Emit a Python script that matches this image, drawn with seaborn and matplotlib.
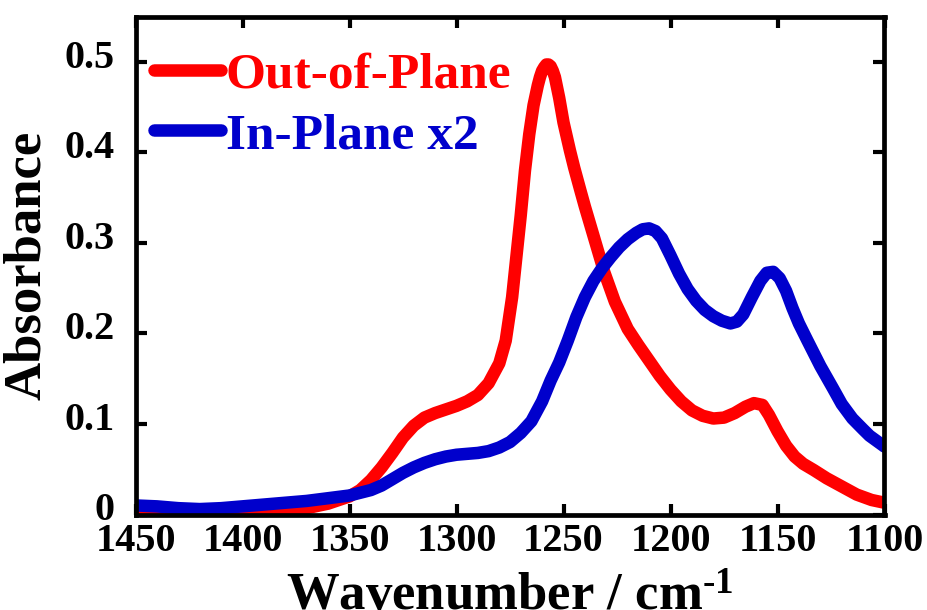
import numpy as np
import pandas as pd
import matplotlib
matplotlib.use("Agg")
import matplotlib.pyplot as plt
import matplotlib.transforms as mtransforms
import seaborn as sns

# ---- data ----
oop_wn = [1450, 1440, 1430, 1420, 1410, 1400, 1390, 1380, 1370, 1360, 1350, 1345,
          1340, 1335, 1330, 1325, 1320, 1315, 1310, 1305, 1300, 1295, 1290, 1285,
          1280, 1277, 1274, 1272, 1270, 1268, 1266, 1264, 1262, 1261, 1260, 1259,
          1258, 1257, 1256, 1255, 1254, 1252, 1250, 1247, 1245, 1242, 1240, 1237,
          1234, 1231, 1226, 1220, 1215, 1210, 1205, 1200, 1195, 1190, 1185, 1180,
          1175, 1170, 1165, 1161, 1157, 1154, 1150, 1146, 1142, 1138, 1133, 1127,
          1120, 1113, 1106, 1100]
oop_abs = [0.003, 0.002, 0.001, 0.001, 0.001, 0.002, 0.003, 0.005, 0.007, 0.012, 0.020, 0.027,
           0.038, 0.052, 0.068, 0.085, 0.098, 0.107, 0.112, 0.116, 0.120, 0.125, 0.132, 0.145,
           0.167, 0.192, 0.240, 0.285, 0.330, 0.380, 0.420, 0.452, 0.474, 0.483, 0.490, 0.494,
           0.497, 0.497, 0.495, 0.490, 0.483, 0.460, 0.433, 0.402, 0.383, 0.357, 0.340, 0.316,
           0.292, 0.268, 0.235, 0.205, 0.187, 0.170, 0.153, 0.138, 0.125, 0.115, 0.109, 0.106,
           0.107, 0.112, 0.119, 0.123, 0.121, 0.110, 0.092, 0.076, 0.064, 0.056, 0.049, 0.040,
           0.031, 0.022, 0.016, 0.013]

ip_wn = [1450, 1440, 1430, 1420, 1410, 1400, 1390, 1380, 1370, 1360, 1350, 1340,
         1335, 1330, 1325, 1320, 1315, 1310, 1305, 1300, 1295, 1290, 1285, 1280,
         1275, 1270, 1265, 1260, 1256, 1252, 1248, 1244, 1240, 1236, 1232, 1228,
         1224, 1220, 1216, 1213, 1210, 1207, 1204, 1200, 1196, 1192, 1188, 1184,
         1180, 1176, 1172, 1169, 1166, 1162, 1158, 1155, 1152, 1149, 1146, 1143,
         1140, 1136, 1130, 1124, 1120, 1115, 1110, 1107, 1100]
ip_abs = [0.010, 0.009, 0.007, 0.006, 0.007, 0.009, 0.011, 0.013, 0.015, 0.018, 0.021, 0.027,
          0.032, 0.039, 0.046, 0.052, 0.057, 0.061, 0.064, 0.066, 0.067, 0.068, 0.070, 0.074,
          0.080, 0.090, 0.103, 0.125, 0.148, 0.168, 0.192, 0.218, 0.240, 0.258, 0.272, 0.284,
          0.295, 0.304, 0.311, 0.315, 0.316, 0.313, 0.305, 0.286, 0.266, 0.249, 0.236, 0.226,
          0.219, 0.214, 0.211, 0.213, 0.221, 0.240, 0.258, 0.267, 0.268, 0.261, 0.247, 0.228,
          0.211, 0.192, 0.164, 0.139, 0.122, 0.106, 0.094, 0.087, 0.075]

series_names = ["Out-of-Plane", "In-Plane x2"]
series_colors = ["#FF0000", "#0000CC"]
x_ticks = [1450, 1400, 1350, 1300, 1250, 1200, 1150, 1100]
y_ticks = [0, 0.1, 0.2, 0.3, 0.4, 0.5]
y_tick_labels = ["0", "0.1", "0.2", "0.3", "0.4", "0.5"]

df = pd.concat([
    pd.DataFrame({"wn": oop_wn, "abs": oop_abs, "series": series_names[0]}),
    pd.DataFrame({"wn": ip_wn, "abs": ip_abs, "series": series_names[1]}),
], ignore_index=True)

sns.set_theme(style="ticks")
plt.rcParams["font.family"] = ["Liberation Serif", "DejaVu Serif"]
plt.rcParams["font.weight"] = "bold"
plt.rcParams["text.color"] = "black"
plt.rcParams["axes.labelcolor"] = "black"
plt.rcParams["mathtext.fontset"] = "custom"
plt.rcParams["mathtext.rm"] = "Liberation Serif:bold"
plt.rcParams["mathtext.bf"] = "Liberation Serif:bold"
plt.rcParams["mathtext.default"] = "rm"

fig = plt.figure(figsize=(9.28, 6.10), dpi=100)
W, H = 928, 610
left, right, top, bottom = 135.5, 884.5, 16.5, 514.5
ax = fig.add_axes([left / W, 1 - bottom / H, (right - left) / W, (bottom - top) / H])

sns.lineplot(data=df, x="wn", y="abs", hue="series", hue_order=series_names,
             palette=dict(zip(series_names, series_colors)), sort=False,
             linewidth=9, ax=ax, estimator=None, solid_joinstyle="round")

ax.set_xlim(1450, 1100)
ax.set_ylim(0, 0.55)
ax.set_xticks(x_ticks)
ax.set_xticklabels([str(t) for t in x_ticks])
ax.set_yticks(y_ticks)
ax.set_yticklabels(y_tick_labels)

for s in ax.spines.values():
    s.set_visible(True)
    s.set_linewidth(3.4)
    s.set_color("black")

ax.tick_params(axis="both", which="major", direction="in", length=8, width=3,
               top=True, right=True, labelsize=29, colors="black")
ax.tick_params(axis="y", pad=15)
ax.tick_params(axis="x", pad=6)
shift_up = mtransforms.ScaledTranslation(0, 0.08, fig.dpi_scale_trans)
for lab in ax.get_yticklabels():
    lab.set_fontweight("bold")
    lab.set_transform(lab.get_transform() + shift_up)
for lab in ax.get_xticklabels():
    lab.set_fontweight("bold")

ax.set_xlabel(r"Wavenumber / cm$^{\text{-1}}$", fontsize=38, fontweight="bold",
              labelpad=10, color="black")
ax.set_ylabel("Absorbance", fontsize=38, fontweight="bold", labelpad=10, color="black")

leg = ax.legend(loc="upper left", frameon=False,
                handlelength=1.3, handletextpad=0.1, labelspacing=0.26,
                borderaxespad=0.1, borderpad=0.2, bbox_to_anchor=(0.004, 0.96),
                prop={"weight": "bold", "size": 37})
for txt, c in zip(leg.get_texts(), series_colors):
    txt.set_color(c)
for ln in leg.get_lines():
    ln.set_linewidth(9)

fig.savefig("out.png", dpi=100)
